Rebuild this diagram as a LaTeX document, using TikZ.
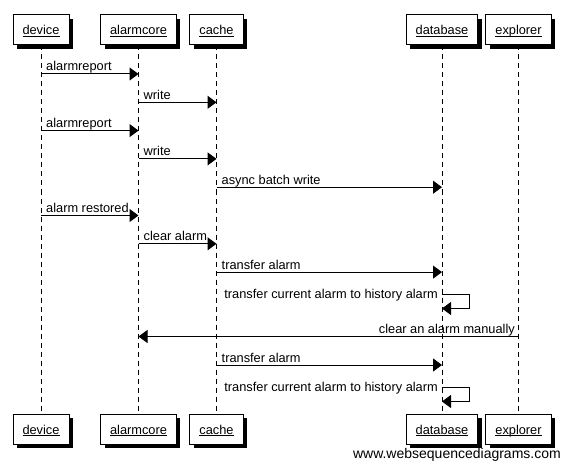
\documentclass[tikz,border=0pt]{standalone}
\usepackage{fontspec}
\setmainfont{Liberation Sans}
\usetikzlibrary{arrows.meta,shadows,calc}
\newcommand\pul[1]{\setbox0\hbox{#1}\rlap{\rule[-2pt]{\wd0}{0.8pt}}#1}
\begin{document}
\begin{tikzpicture}[x=1pt,y=-1pt,
  font=\fontsize{12.8}{15}\selectfont,
  pbox/.style={draw, fill=white, line width=1pt, minimum height=30pt, inner xsep=9.5pt, inner ysep=0pt,
    text height=10pt, text depth=0pt,
    drop shadow={shadow xshift=4pt, shadow yshift=-4pt, fill=black, opacity=1}},
  life/.style={line width=1pt, dash pattern=on 5pt off 4pt},
  msg/.style={line width=1pt, -{Triangle[length=9pt,width=13pt]}},
  lbl/.style={inner sep=0pt},
  lblr/.style={lbl, anchor=base west, xshift=5pt, yshift=3pt},
  lbll/.style={lbl, anchor=base east, xshift=-3.5pt, yshift=3pt},
  lbls/.style={lbl, anchor=base east, xshift=-4pt, yshift=-4.5pt}]
\useasboundingbox (0,0) rectangle (565,468);
% participants top
\node[pbox] (devT) at (41,30) {\pul{device}};
\node[pbox] (acT) at (138.5,30) {\pul{alarmcore}};
\node[pbox] (caT) at (216.5,30) {\pul{cache}};
\node[pbox] (dbT) at (442,30) {\pul{database}};
\node[pbox] (exT) at (518.5,30) {\pul{explorer}};
% participants bottom
\node[pbox] (devB) at (41,429) {\pul{device}};
\node[pbox] (acB) at (138.5,429) {\pul{alarmcore}};
\node[pbox] (caB) at (216.5,429) {\pul{cache}};
\node[pbox] (dbB) at (442,429) {\pul{database}};
\node[pbox] (exB) at (518.5,429) {\pul{explorer}};
% lifelines
\draw[life] (devT.south) -- (devB.north);
\draw[life] (acT.south) -- (acB.north);
\draw[life] (caT.south) -- (caB.north);
\draw[life] (dbT.south) -- (dbB.north);
\draw[life] (exT.south) -- (exB.north);
% message rows
\coordinate (m1) at (0,74);
\coordinate (m2) at (0,102.3);
\coordinate (m3) at (0,130.6);
\coordinate (m4) at (0,158.9);
\coordinate (m5) at (0,187.2);
\coordinate (m6) at (0,215.5);
\coordinate (m7) at (0,243.8);
\coordinate (m8) at (0,272.1);
\coordinate (s1) at (0,294);
\coordinate (s1b) at (0,308.5);
\coordinate (m9) at (0,336.5);
\coordinate (m10) at (0,365);
\coordinate (s2) at (0,387);
\coordinate (s2b) at (0,401.5);
% messages
\draw[msg] (devT |- m1) -- (acT |- m1);
\node[lblr] at (devT |- m1) {alarmreport};
\draw[msg] (acT |- m2) -- (caT |- m2);
\node[lblr] at (acT |- m2) {write};
\draw[msg] (devT |- m3) -- (acT |- m3);
\node[lblr] at (devT |- m3) {alarmreport};
\draw[msg] (acT |- m4) -- (caT |- m4);
\node[lblr] at (acT |- m4) {write};
\draw[msg] (caT |- m5) -- (dbT |- m5);
\node[lblr] at (caT |- m5) {async batch write};
\draw[msg] (devT |- m6) -- (acT |- m6);
\node[lblr] at (devT |- m6) {alarm restored};
\draw[msg] (acT |- m7) -- (caT |- m7);
\node[lblr] at (acT |- m7) {clear alarm};
\draw[msg] (caT |- m8) -- (dbT |- m8);
\node[lblr] at (caT |- m8) {transfer alarm};
\draw[msg] (dbT |- s1) -- ++(27,0) |- (dbT |- s1b);
\node[lbls] at (dbT |- s1) {transfer current alarm to history alarm};
\draw[msg] (exT |- m9) -- (acT |- m9);
\node[lbll] at (exT |- m9) {clear an alarm manually};
\draw[msg] (caT |- m10) -- (dbT |- m10);
\node[lblr] at (caT |- m10) {transfer alarm};
\draw[msg] (dbT |- s2) -- ++(27,0) |- (dbT |- s2b);
\node[lbls] at (dbT |- s2) {transfer current alarm to history alarm};
% watermark
\node[lbl, anchor=base east, font=\fontsize{14}{16}\selectfont] (wm) at (561,458) {www.websequencediagrams.com};
\end{tikzpicture}
\end{document}
